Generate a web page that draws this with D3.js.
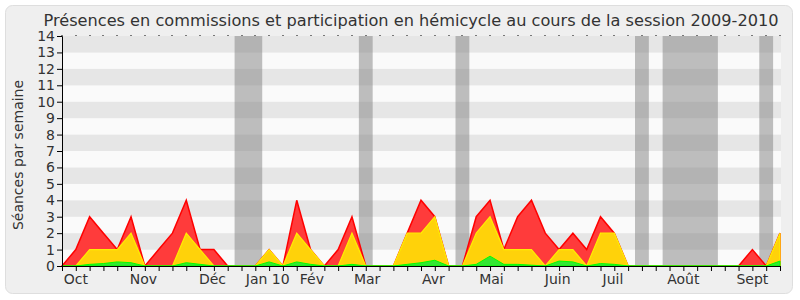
<!DOCTYPE html>
<html>
<head>
<meta charset="utf-8">
<script src="https://cdn.jsdelivr.net/npm/d3@7"></script>
<style>
body{margin:0;background:#fff}
text{font-family:"DejaVu Sans",sans-serif}
</style>
</head>
<body>
<svg id="chart" width="800" height="300"></svg>
<script>
// weekly values, session 2009-2010 (53 weeks)
var presences     = [0,1,3,2,1,3,0,1,2,4,1,1,0,0,0,1,0,4,1,0,1,3,0,0,0,2,4,3,0,0,3,4,1,3,4,2,1,2,1,3,2,0,0,0,0,0,0,0,0,0,1,0,2]
var participations= [0,0,1,1,1,2,0,0,0,2,1,0,0,0,0,1,0,2,1,0,0,2,0,0,0,2,2,3,0,0,2,3,1,1,1,0,1,1,0,2,2,0,0,0,0,0,0,0,0,0,0,0,2]
var interventions = [0,0,0.1,0.15,0.25,0.2,0,0,0,0.2,0.1,0,0,0,0,0.25,0,0.25,0.1,0,0,0.1,0,0,0,0.1,0.2,0.35,0,0,0.1,0.6,0.1,0.1,0.05,0,0.3,0.25,0,0.15,0.1,0,0,0,0,0,0,0,0,0,0,0,0.3]
var vacances = [[12.5,14.5],[21.5,22.5],[28.5,29.5],[41.5,42.5],[43.5,47.5],[50.5,51.5]]
var mois = ["Oct","Nov","Déc","Jan 10","Fév","Mar","Avr","Mai","Juin","Juil","Août","Sept"]
var moisPos = [1,5.9,10.9,14.9,18.1,22.1,26.9,31.1,35.9,39.9,45,50]
var yTicks = d3.range(0,15)

var svg = d3.select("#chart")
var x = d3.scaleLinear().domain([0,presences.length-1]).range([62,780])
var y = d3.scaleLinear().domain([0,14]).range([266,36])

svg.append("rect").attr("x",5.5).attr("y",5.5).attr("width",787).attr("height",288).attr("rx",7)
    .attr("fill","#efefef").attr("stroke","#dedede")

// row stripes
svg.selectAll(".stripe").data(d3.range(0,14)).join("rect").attr("class","stripe")
    .attr("x",x(0)).attr("width",x(52)-x(0)+1)
    .attr("y",d=>y(d+1)).attr("height",d=>y(d)-y(d+1))
    .attr("fill",d=>d%2?"#e6e6e6":"#fafafa")

// holiday bands
svg.selectAll(".vac").data(vacances).join("rect").attr("class","vac")
    .attr("x",d=>x(d[0])).attr("width",d=>x(d[1])-x(d[0]))
    .attr("y",y(14)).attr("height",y(0)-y(14))
    .attr("fill","#808080").attr("fill-opacity",0.5)

var idx = d3.range(presences.length)
function area(vals){ return d3.area().x(i=>x(i)).y0(y(0)).y1(i=>y(vals[i]))(idx) }
svg.append("path").attr("d",area(presences)).attr("fill","#ff3b3b").attr("stroke","#ff0000").attr("stroke-width",1.5)
svg.append("path").attr("d",area(participations)).attr("fill","#ffd20a").attr("stroke","#ffee00").attr("stroke-width",1.2)
svg.append("path").attr("d",area(interventions)).attr("fill","#33e633").attr("stroke","#00ff00").attr("stroke-width",1)

// top dots
svg.selectAll(".dot").data(idx).join("rect").attr("class","dot")
    .attr("x",i=>Math.round(x(i))-0.5).attr("y",y(14)-1).attr("width",1).attr("height",1).attr("fill","#000")

// axes
var yAxis = svg.append("g").attr("transform","translate("+x(0)+",0)")
    .call(d3.axisLeft(y).tickValues(yTicks).tickSize(5).tickPadding(2).tickFormat(d3.format("d")))
yAxis.selectAll("text").attr("font-size",14).attr("fill","#333").style("font-family","DejaVu Sans, sans-serif")
yAxis.selectAll("line,path").attr("stroke","#000")

var xAxis = svg.append("g").attr("transform","translate(0,"+y(0)+")")
    .call(d3.axisBottom(x).tickValues(idx).tickSize(5).tickFormat(""))
xAxis.selectAll("line,path").attr("stroke","#000")

svg.selectAll(".mois").data(mois).join("text").attr("class","mois")
    .attr("x",(d,i)=>x(moisPos[i])).attr("y",284).attr("text-anchor","middle")
    .attr("font-size",14).attr("fill","#333").text(d=>d)

svg.append("text").attr("transform","translate(23,155) rotate(-90)").attr("text-anchor","middle")
    .attr("font-size",14).attr("fill","#333").text("Séances par semaine")

var title = svg.append("text").attr("x",411).attr("y",26).attr("text-anchor","middle")
    .attr("font-size",16).attr("fill","#333")
    .text("Présences en commissions et participation en hémicycle au cours de la session 2009-2010")
title.attr("textLength",735).attr("lengthAdjust","spacingAndGlyphs")
</script>
</body>
</html>
